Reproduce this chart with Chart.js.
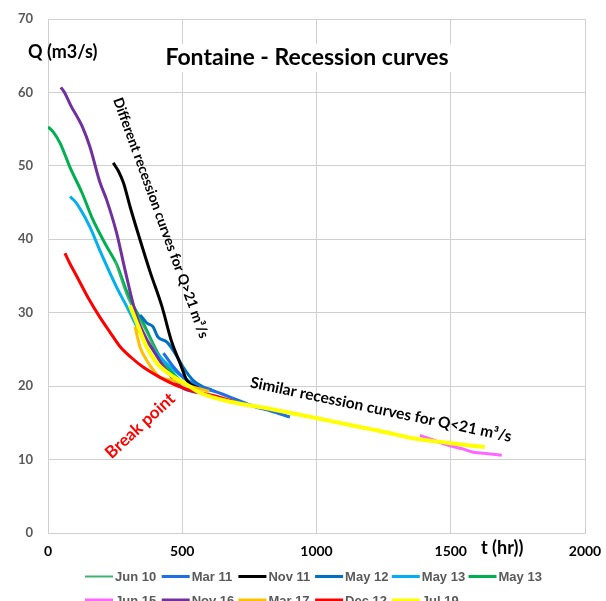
<!DOCTYPE html>
<html lang="en">
<head>
<meta charset="UTF-8">
<title>Fontaine - Recession curves</title>
<script src="https://cdn.jsdelivr.net/npm/chart.js"></script>
<style>
  html, body { margin: 0; padding: 0; background: #fff; }
</style>
</head>
<body>
<canvas id="chart" width="606" height="601"></canvas>
<script>
// t (hr) and Q (m3/s)
const tJun10 = [250, 298, 343, 400, 460, 510];
const qJun10 = [37.0, 31.9, 29.0, 25.0, 21.5, 20.2];
const tMar11 = [430, 470, 510, 560, 620, 700, 763, 830, 901];
const qMar11 = [24.5, 22.5, 21.0, 20.0, 19.3, 18.2, 17.3, 16.6, 15.8];
const tNov11 = [243, 262, 281, 306, 343, 380, 424, 461, 492, 517, 560];
const qNov11 = [50.4, 49.3, 47.7, 44.4, 39.9, 35.6, 30.9, 26.0, 23.1, 20.8, 19.7];
const tMay12 = [343, 368, 391, 409, 443, 473, 503, 540, 577, 610];
const qMay12 = [29.7, 28.6, 28.1, 26.7, 26.0, 24.5, 22.6, 20.8, 19.9, 19.5];
const tMay13a = [82, 100, 119, 156, 193, 231, 262, 294, 340, 380, 430, 492, 560, 620];
const qMay13a = [45.8, 45.2, 44.2, 41.7, 38.5, 35.4, 33.0, 30.8, 27.5, 25.5, 23.5, 21.5, 20.0, 19.3];
const tMay13b = [0, 20, 45, 82, 127, 168, 219, 257, 290, 320, 354, 417, 492, 540];
const qMay13b = [55.3, 54.6, 53.1, 49.8, 46.3, 42.6, 39.0, 36.5, 33.2, 30.8, 28.6, 24.0, 20.8, 19.8];
const tJun15 = [1385, 1440, 1485, 1540, 1584, 1640, 1690];
const qJun15 = [13.3, 12.6, 12.0, 11.5, 11.0, 10.8, 10.6];
const tNov16 = [48, 63, 85, 110, 127, 156, 193, 219, 256, 287, 331, 398, 461, 503, 560];
const qNov16 = [60.7, 59.9, 58.2, 56.6, 55.4, 52.6, 47.8, 45.3, 40.8, 35.8, 29.4, 24.5, 21.2, 19.7, 19.1];
const tMar17 = [324, 343, 368, 392, 417, 465, 530, 600];
const qMar17 = [28.1, 25.3, 23.5, 22.2, 21.2, 20.8, 20.0, 19.3];
const tDec12 = [63, 80, 108, 150, 193, 230, 268, 310, 354, 417, 492, 566, 629, 708];
const qDec12 = [38.1, 36.8, 34.9, 32.0, 29.4, 27.4, 25.4, 23.9, 22.6, 21.2, 19.9, 19.1, 18.6, 17.7];
const tJul19 = [305, 331, 368, 406, 454, 517, 566, 689, 815, 994, 1124, 1248, 1359, 1485, 1627];
const qJul19 = [31.0, 28.6, 25.3, 23.1, 21.6, 20.2, 19.1, 17.8, 17.0, 15.7, 14.7, 13.8, 12.9, 12.3, 11.7];

const seriesNames = ['Jun 10', 'Mar 11', 'Nov 11', 'May 12', 'May 13', 'May 13', 'Jun 15', 'Nov 16', 'Mar 17', 'Dec 12', 'Jul 19'];
const seriesT = [tJun10, tMar11, tNov11, tMay12, tMay13a, tMay13b, tJun15, tNov16, tMar17, tDec12, tJul19];
const seriesQ = [qJun10, qMar11, qNov11, qMay12, qMay13a, qMay13b, qJun15, qNov16, qMar17, qDec12, qJul19];
const seriesColors = ['#3cb371', '#1f6fe5', '#000000', '#0070c0', '#00b0f0', '#00b050', '#ff66ff', '#7030a0', '#ffc000', '#ff0000', '#ffff00'];
const seriesWidths = [1.5, 3, 3, 3, 3, 3, 3, 3, 3, 3, 4];
// lower = drawn on top
const seriesOrder = [9, 6, 4, 7, 8, 9, 10, 5, 2, 1, 0];

const xTicks = [0, 500, 1000, 1500, 2000];
const yTicks = [0, 10, 20, 30, 40, 50, 60, 70];

const datasets = seriesNames.map((name, i) => ({
    label: name,
    data: seriesT[i].map((t, j) => ({ x: t, y: seriesQ[i][j] })),
    borderColor: seriesColors[i],
    backgroundColor: seriesColors[i],
    borderWidth: seriesWidths[i],
    pointRadius: 0,
    cubicInterpolationMode: 'monotone',
    order: seriesOrder[i]
}));

// titles, notes and legend drawn on the canvas
const textPlugin = {
    id: 'texts',
    afterDraw(chart) {
        const ctx = chart.ctx;
        const xs = chart.scales.x, ys = chart.scales.y;
        ctx.save();

        // title with white box over the grid
        ctx.font = 'bold 23px Lato';
        ctx.textAlign = 'center';
        ctx.textBaseline = 'middle';
        const title = 'Fontaine - Recession curves';
        const tw = ctx.measureText(title).width;
        ctx.fillStyle = '#fff';
        ctx.fillRect(307 - tw / 2 - 4, 44, tw + 8, 28);
        ctx.fillStyle = '#000';
        ctx.fillText(title, 307, 58);

        ctx.font = 'bold 18px Lato';
        ctx.textAlign = 'left';
        ctx.fillText('Q (m3/s)', 28, 52);
        ctx.fillText('t (hr))', 481, 548);

        const note = (text, t, q, deg, font, color) => {
            ctx.save();
            ctx.translate(xs.getPixelForValue(t), ys.getPixelForValue(q));
            ctx.rotate(deg * Math.PI / 180);
            ctx.font = font;
            ctx.fillStyle = color;
            ctx.textAlign = 'center';
            ctx.textBaseline = 'middle';
            ctx.fillText(text, 0, 0);
            ctx.restore();
        };
        note('Different recession curves for Q>21 m³/s', 420, 42.9, 70, 'bold 14px Lato', '#000');
        note('Similar recession curves for Q<21 m³/s', 1240, 16.8, 11.8, 'bold 15.5px Lato', '#000');
        note('Break point', 343, 14.6, -42.5, 'bold 17px Lato', '#ff0000');

        // legend, two rows of fixed slots
        ctx.font = 'bold 13px "Liberation Sans"';
        ctx.textAlign = 'left';
        ctx.textBaseline = 'middle';
        chart.data.datasets.forEach((ds, i) => {
            const col = i % 6, row = Math.floor(i / 6);
            const x = 85 + col * 76.7, y = 576.5 + row * 23.5;
            ctx.strokeStyle = ds.borderColor;
            ctx.lineWidth = i === 0 ? 2 : 3;
            ctx.beginPath();
            ctx.moveTo(x, y);
            ctx.lineTo(x + 28, y);
            ctx.stroke();
            ctx.fillStyle = '#595959';
            ctx.fillText(ds.label, x + 30, y + 1);
        });
        ctx.restore();
    }
};

new Chart(document.getElementById('chart'), {
    type: 'line',
    data: { datasets: datasets },
    options: {
        responsive: false,
        animation: false,
        layout: { padding: { top: 19, right: 21, left: 0, bottom: 0 } },
        plugins: {
            legend: { display: false },
            title: { display: false },
            tooltip: { enabled: false }
        },
        scales: {
            x: {
                type: 'linear',
                min: 0, max: 2000,
                afterBuildTicks: s => { s.ticks = xTicks.map(v => ({ value: v })); },
                afterFit: s => { s.height = 68; },
                grid: { color: '#d0d0d0', drawTicks: true, tickLength: 10, tickColor: 'rgba(0,0,0,0)' },
                border: { color: '#d0d0d0' },
                ticks: {
                    color: '#000', font: { family: 'Lato', size: 14, weight: 'bold' },
                    padding: 0, maxRotation: 0,
                    callback: v => String(v)
                }
            },
            y: {
                min: 0, max: 70,
                afterBuildTicks: s => { s.ticks = yTicks.map(v => ({ value: v })); },
                afterFit: s => { s.width = 48; },
                grid: { color: '#d0d0d0', drawTicks: true, tickLength: 15, tickColor: 'rgba(0,0,0,0)' },
                border: { color: '#d0d0d0' },
                ticks: { color: '#595959', font: { family: 'Lato', size: 13, weight: 'bold' }, padding: 0 }
            }
        }
    },
    plugins: [textPlugin]
});
</script>
</body>
</html>
